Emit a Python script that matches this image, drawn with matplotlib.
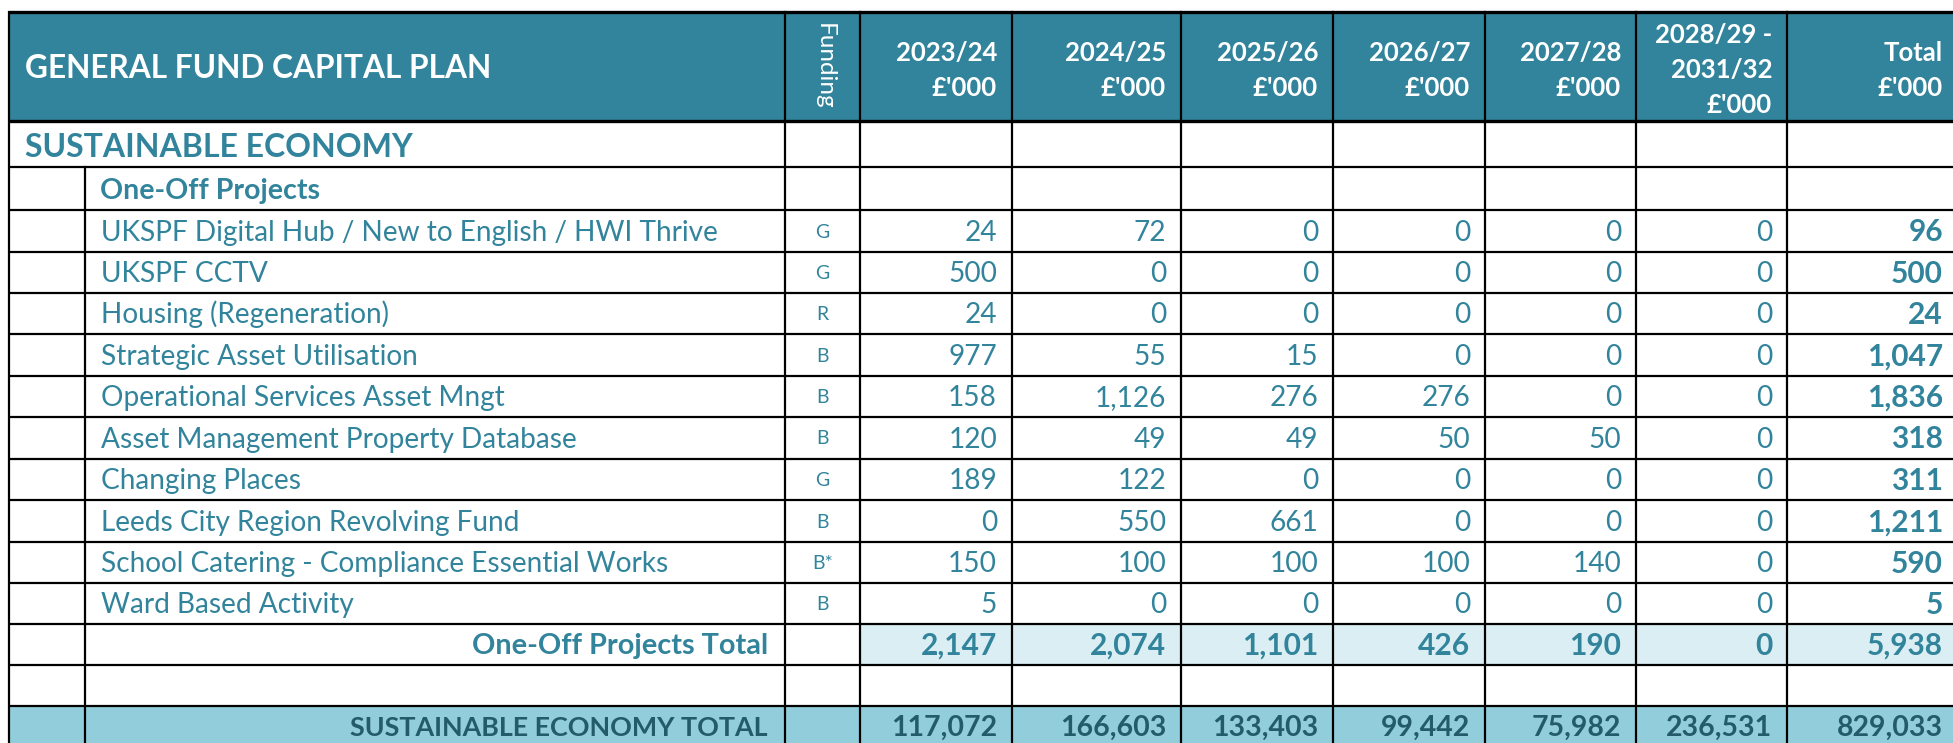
import matplotlib.pyplot as plt
from matplotlib.patches import Rectangle

plt.rcParams['font.family'] = ['Lato', 'DejaVu Sans']

# ---- data ----
title = 'GENERAL FUND CAPITAL PLAN'
section = 'SUSTAINABLE ECONOMY'
group = 'One-Off Projects'
group_total_label = 'One-Off Projects Total'
section_total_label = 'SUSTAINABLE ECONOMY TOTAL'

col_heads = [['2023/24', "£'000"], ['2024/25', "£'000"], ['2025/26', "£'000"],
             ['2026/27', "£'000"], ['2027/28', "£'000"],
             ['2028/29 -', '2031/32', "£'000"], ['Total', "£'000"]]

projects = ['UKSPF Digital Hub / New to English / HWI Thrive', 'UKSPF CCTV',
            'Housing (Regeneration)', 'Strategic Asset Utilisation',
            'Operational Services Asset Mngt', 'Asset Management Property Database',
            'Changing Places', 'Leeds City Region Revolving Fund',
            'School Catering - Compliance Essential Works', 'Ward Based Activity']
funding = ['G', 'G', 'R', 'B', 'B', 'B', 'G', 'B', 'B*', 'B']

y2023 = [24, 500, 24, 977, 158, 120, 189, 0, 150, 5]
y2024 = [72, 0, 0, 55, 1126, 49, 122, 550, 100, 0]
y2025 = [0, 0, 0, 15, 276, 49, 0, 661, 100, 0]
y2026 = [0, 0, 0, 0, 276, 50, 0, 0, 100, 0]
y2027 = [0, 0, 0, 0, 0, 50, 0, 0, 140, 0]
y2028_32 = [0, 0, 0, 0, 0, 0, 0, 0, 0, 0]
totals = [96, 500, 24, 1047, 1836, 318, 311, 1211, 590, 5]

se_totals = [117072, 166603, 133403, 99442, 75982, 236531, 829033]

# ---- layout (pixels) ----
W, H = 1953, 743
HEAD = '#31849B'
TEAL = '#31849B'
SUB_FILL = '#DAEEF3'
TOT_FILL = '#92CDDC'
TOT_TEXT = '#245B69'

x_left, x_ind, x_fund = 8.5, 85, 785
num_edges = [860, 1012, 1181, 1333, 1485, 1636, 1787, 1958]
y_edges = [12, 120.5, 167, 210, 251.5, 292.5, 334, 375.5, 416.5, 458.5,
           500, 541.5, 582.5, 623.5, 664.5, 705.5, 750]
PX = 100 / 72  # px per pt at dpi 100
CAP = 0.7165   # Lato cap height / em


def put(x, yc, s, size, ha='left', color=TEAL, weight='normal', **kw):
    # place text with cap height centred on yc
    base = yc + CAP * size * PX / 2
    ax.text(x, base, s, fontsize=size, ha=ha, va='baseline', color=color,
            fontweight=weight, **kw)


fig = plt.figure(figsize=(W / 100, H / 100), dpi=100)
ax = fig.add_axes([0, 0, 1, 1])
ax.set_xlim(0, W)
ax.set_ylim(H, 0)
ax.axis('off')

# fills
ax.add_patch(Rectangle((x_left, y_edges[0]), W + 10, y_edges[1] - y_edges[0],
                       color=HEAD, lw=0))
ax.add_patch(Rectangle((num_edges[0], y_edges[13]), W, y_edges[14] - y_edges[13],
                       color=SUB_FILL, lw=0))
ax.add_patch(Rectangle((x_left, y_edges[15]), W + 10, 50, color=TOT_FILL, lw=0))

# grid lines
for i, y in enumerate(y_edges[:-1]):
    lw = 2.4 if i < 2 else 1.6
    ax.plot([x_left, W + 10], [y, y], color='black', lw=lw, solid_capstyle='butt')
ax.plot([x_left, x_left], [y_edges[0], H + 5], color='black', lw=1.6)
ax.plot([x_ind, x_ind], [y_edges[2], H + 5], color='black', lw=1.6)
for x in [x_fund] + num_edges:
    ax.plot([x, x], [y_edges[0], H + 5], color='black', lw=1.6)

# header
put(25, 67, title, 22.8, color='white', weight='bold')
ax.text((x_fund + num_edges[0]) / 2 + 2, 23, 'Funding', fontsize=17.5, rotation=270,
        ha='center', va='top', color='white')
for j, lines in enumerate(col_heads):
    xr = num_edges[j + 1] - 15
    if len(lines) == 2:
        ys = [52, 87]
    else:
        ys = [34, 69, 104]
    for s, yc in zip(lines, ys):
        put(xr, yc, s, 18.5, ha='right', color='white', weight='bold')

# section and group
put(25, 146, section, 23, weight='bold')
put(100, 189, group, 20.6, weight='bold')

# project rows
cols = [y2023, y2024, y2025, y2026, y2027, y2028_32, totals]
for i, name in enumerate(projects):
    yc = (y_edges[3 + i] + y_edges[4 + i]) / 2
    put(101, yc, name, 20.2)
    put((x_fund + num_edges[0]) / 2, yc, funding[i], 14, ha='center')
    for j, col in enumerate(cols):
        bold = j == len(cols) - 1
        put(num_edges[j + 1] - 15, yc, f'{col[i]:,}', 21.5 if bold else 20.2,
            ha='right', weight='bold' if bold else 'normal')

# group total
yc = (y_edges[13] + y_edges[14]) / 2
put(768, yc, group_total_label, 20.8, ha='right', weight='bold')
for j, col in enumerate(cols):
    put(num_edges[j + 1] - 15, yc, f'{sum(col):,}', 21.5, ha='right', weight='bold')

# section total
yc = 726
put(768, yc, section_total_label, 19.4, ha='right', weight='bold', color=TOT_TEXT)
for j, v in enumerate(se_totals):
    put(num_edges[j + 1] - 15, yc, f'{v:,}', 20.5, ha='right', weight='bold',
        color=TOT_TEXT)

fig.savefig('out.png', dpi=100)
